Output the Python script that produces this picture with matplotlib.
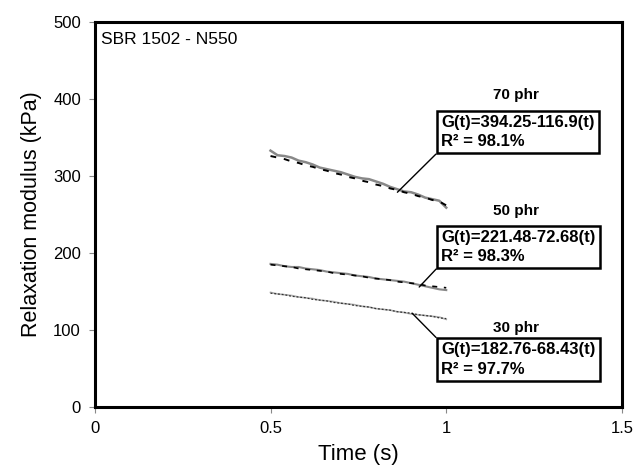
import matplotlib
matplotlib.use("Agg")
import matplotlib.pyplot as plt
import numpy as np

plt.rcParams['font.family'] = ['Liberation Sans', 'DejaVu Sans']

time_s = [0.50, 0.52, 0.54, 0.56, 0.58, 0.60, 0.62, 0.64, 0.66, 0.68, 0.70, 0.72, 0.74,
          0.76, 0.78, 0.80, 0.82, 0.84, 0.86, 0.88, 0.90, 0.92, 0.94, 0.96, 0.98, 1.00]

g70_data = [333, 327, 326, 324, 320, 318, 315, 311, 309, 307, 305, 302, 299,
            297, 296, 293, 290, 286, 283, 280, 279, 276, 272, 270, 268, 259]
g70_fit = [326, 324, 322, 319, 317, 314, 312, 309, 307, 304, 302, 299, 297,
           294, 292, 289, 287, 284, 282, 279, 277, 274, 272, 269, 267, 262]
g50_data = [186, 185, 183, 182, 182, 180, 179, 178, 176, 175, 174, 173, 171,
            170, 169, 167, 166, 165, 164, 163, 161, 159, 157, 155, 153, 152]
g50_fit = [185, 184, 183, 182, 180, 179, 178, 177, 176, 174, 173, 172, 171,
           170, 168, 167, 166, 165, 163, 162, 161, 160, 158, 157, 156, 155]
g30_data = [149, 147, 146, 145, 143, 142, 141, 139, 138, 137, 135, 134, 133,
            131, 130, 128, 127, 126, 124, 123, 121, 120, 119, 118, 117, 114]
g30_fit = [148, 147, 146, 144, 143, 142, 140, 139, 138, 136, 135, 134, 132,
           131, 130, 128, 127, 126, 124, 123, 122, 120, 119, 118, 116, 115]

labels = ["70 phr", "50 phr", "30 phr"]
equations = ["G(t)=394.25-116.9(t)\nR² = 98.1%",
             "G(t)=221.48-72.68(t)\nR² = 98.3%",
             "G(t)=182.76-68.43(t)\nR² = 97.7%"]

fig = plt.figure(figsize=(6.36, 4.67), dpi=100)
ax = fig.add_axes([0.149, 0.128, 0.829, 0.825])

ax.plot(time_s, g70_data, color='#888888', lw=1.8, solid_joinstyle='round')
ax.plot(time_s, g70_fit, color='black', lw=1.4, ls=(0, (3, 4)))
ax.plot(time_s, g50_data, color='#888888', lw=1.5)
ax.plot(time_s, g50_fit, color='black', lw=1.2, ls=(0, (3, 4)))
ax.plot(time_s, g30_data, color='#b0b0b0', lw=1.2)
ax.plot(time_s, g30_fit, color='#333333', lw=0.9, ls=(0, (1.5, 1.5)))

ax.set_xlim(0, 1.5)
ax.set_ylim(0, 500)
ax.set_xticks([0, 0.5, 1, 1.5])
ax.set_xticklabels(['0', '0.5', '1', '1.5'])
ax.set_yticks([0, 100, 200, 300, 400, 500])
ax.tick_params(axis='both', labelsize=12, length=4, width=0.8, color='#888888', direction='out', pad=6)
for s in ax.spines.values():
    s.set_linewidth(2.2)
ax.set_xlabel('Time (s)', fontsize=16, labelpad=6)
ax.set_ylabel('Relaxation modulus (kPa)', fontsize=15.5, labelpad=8)

ax.text(0.012, 0.975, 'SBR 1502 - N550', transform=ax.transAxes, fontsize=12.5, va='top', ha='left')

box = dict(boxstyle='square,pad=0.25', fc='white', ec='black', lw=1.8)
fs = 12
lfs = 11
# 70 phr
ax.annotate(equations[0], xy=(0.861, 279), xytext=(0.985, 335), textcoords='data',
            ha='left', va='bottom', fontsize=fs, fontweight='bold', bbox=box, linespacing=1.35,
            arrowprops=dict(arrowstyle='-', color='black', lw=1, relpos=(0, 0), shrinkA=0, shrinkB=0))
ax.text(1.199, 405, labels[0], ha='center', va='center', fontsize=lfs, fontweight='bold')
# 50 phr
ax.annotate(equations[1], xy=(0.923, 156), xytext=(0.985, 186), textcoords='data',
            ha='left', va='bottom', fontsize=fs, fontweight='bold', bbox=box, linespacing=1.35,
            arrowprops=dict(arrowstyle='-', color='black', lw=1, relpos=(0, 0), shrinkA=0, shrinkB=0))
ax.text(1.199, 255, labels[1], ha='center', va='center', fontsize=lfs, fontweight='bold')
# 30 phr
ax.annotate(equations[2], xy=(0.903, 122), xytext=(0.985, 84), textcoords='data',
            ha='left', va='top', fontsize=fs, fontweight='bold', bbox=box, linespacing=1.35,
            arrowprops=dict(arrowstyle='-', color='black', lw=1, relpos=(0, 1), shrinkA=0, shrinkB=0))
ax.text(1.199, 103, labels[2], ha='center', va='center', fontsize=lfs, fontweight='bold')

fig.savefig('out.png', dpi=100)
